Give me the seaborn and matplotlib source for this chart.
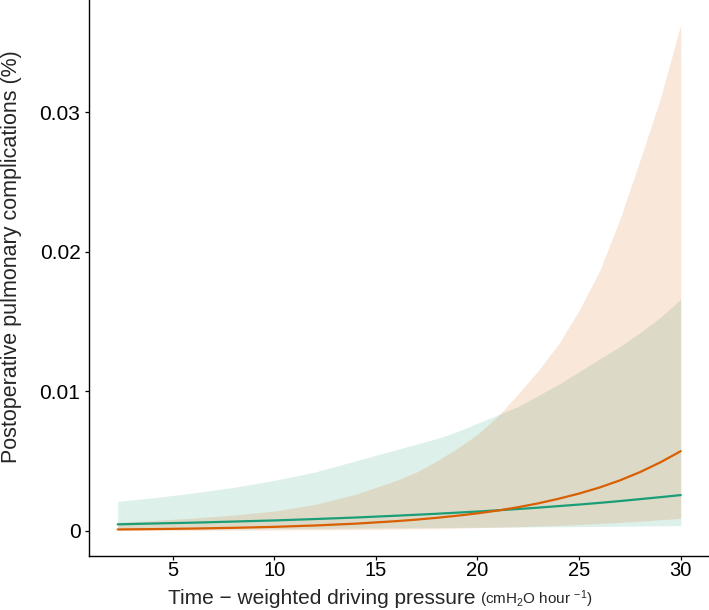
import matplotlib
matplotlib.use("Agg")
import matplotlib.pyplot as plt
import numpy as np
import pandas as pd
import seaborn as sns

# pressure grid
pressure = [2.3, 4, 6, 8, 10, 12, 14, 16, 17, 18, 19, 20, 21, 22, 23, 24, 25, 26, 27, 28, 29, 30]

# green group
green_fit = [0.00045, 0.00051, 0.00057, 0.00065, 0.00073, 0.00083, 0.00094, 0.00107, 0.00114,
             0.00121, 0.00129, 0.00137, 0.00146, 0.00155, 0.00165, 0.00176, 0.00187, 0.00199,
             0.00212, 0.00226, 0.0024, 0.00255]
green_low = [0.0001, 0.00011, 0.00012, 0.00013, 0.00015, 0.00016, 0.00018, 0.0002, 0.00021,
             0.00022, 0.00023, 0.00024, 0.00025, 0.00026, 0.00027, 0.00028, 0.00029, 0.0003,
             0.000315, 0.00033, 0.000345, 0.00036]
green_high = [0.0021, 0.00235, 0.0027, 0.0031, 0.0036, 0.0042, 0.005, 0.0058, 0.0062,
              0.0066, 0.0071, 0.0077, 0.0083, 0.0089, 0.0097, 0.0105, 0.0114, 0.0123,
              0.0132, 0.0142, 0.0153, 0.0166]

# orange group
orange_fit = [0.000084, 0.000109, 0.000148, 0.000201, 0.000272, 0.000368, 0.0005, 0.00068,
              0.00079, 0.00092, 0.00107, 0.00124, 0.00144, 0.00168, 0.00196, 0.00229,
              0.00266, 0.00309, 0.0036, 0.0042, 0.0049, 0.0057]
orange_low = [0.00001, 0.000015, 0.00002, 0.00003, 0.00004, 0.00005, 0.00008, 0.00011,
              0.00013, 0.00015, 0.00018, 0.00021, 0.00024, 0.00028, 0.00033, 0.00038,
              0.00044, 0.00051, 0.00059, 0.00068, 0.00078, 0.00088]
orange_high = [0.0006, 0.00072, 0.0009, 0.00112, 0.0014, 0.00188, 0.0026, 0.0036, 0.0042,
               0.005, 0.0059, 0.0069, 0.0082, 0.0098, 0.0115, 0.0134, 0.0158, 0.0186,
               0.0223, 0.0266, 0.031, 0.0363]

groups = ["A", "B"]
colors = {"A": "#1B9E77", "B": "#D95F02"}

y_ticks = [0, 0.01, 0.02, 0.03]
y_tick_labels = ["0", "0.01", "0.02", "0.03"]
x_ticks = [5, 10, 15, 20, 25, 30]

df = pd.concat([
    pd.DataFrame({"pressure": pressure, "ppc": green_fit, "lo": green_low,
                  "hi": green_high, "group": "A"}),
    pd.DataFrame({"pressure": pressure, "ppc": orange_fit, "lo": orange_low,
                  "hi": orange_high, "group": "B"}),
])

sns.set_theme(style="ticks")
plt.rcParams["font.family"] = ["Liberation Sans", "DejaVu Sans"]
plt.rcParams["mathtext.fontset"] = "custom"
plt.rcParams["mathtext.rm"] = "Liberation Sans"
plt.rcParams["mathtext.it"] = "Liberation Sans:italic"

fig = plt.figure(figsize=(7.09, 6.10), dpi=100)
ax = fig.add_axes([89 / 709, 54 / 610, 620 / 709, 556 / 610])

# ribbons first, then the fitted lines on top
for g in groups:
    sub = df[df["group"] == g]
    ax.fill_between(sub["pressure"], sub["lo"], sub["hi"], color=colors[g],
                    alpha=0.15, linewidth=0)
sns.lineplot(data=df, x="pressure", y="ppc", hue="group", palette=colors,
             linewidth=1.6, legend=False, ax=ax)

ax.set_xlim(0.89, 31.39)
ax.set_ylim(-0.00182, 0.03806)
ax.set_xticks(x_ticks)
ax.set_yticks(y_ticks)
ax.set_yticklabels(y_tick_labels)
ax.tick_params(axis="both", colors="black", length=3.2, width=0.9)
ax.tick_params(axis="x", labelsize=14.5, pad=0.6)
ax.tick_params(axis="y", labelsize=15, pad=3)
for side in ["top", "right"]:
    ax.spines[side].set_visible(False)
for side in ["left", "bottom"]:
    ax.spines[side].set_color("black")
    ax.spines[side].set_linewidth(1.0)
ax.set_xlabel("")
ax.set_ylabel("")

fig.text(1 / 709, 1 - 257 / 610, "Postoperative pulmonary complications (%)",
         rotation=90, ha="left", va="center", fontsize=15.5)
fig.text(476 / 709, 6 / 610, "Time \u2212 weighted driving pressure",
         ha="right", va="baseline", fontsize=15)
fig.text(480 / 709, 6 / 610, r"(cmH$_2$O hour $^{-1}$)",
         ha="left", va="baseline", fontsize=11)

fig.savefig("out.png", dpi=100)
